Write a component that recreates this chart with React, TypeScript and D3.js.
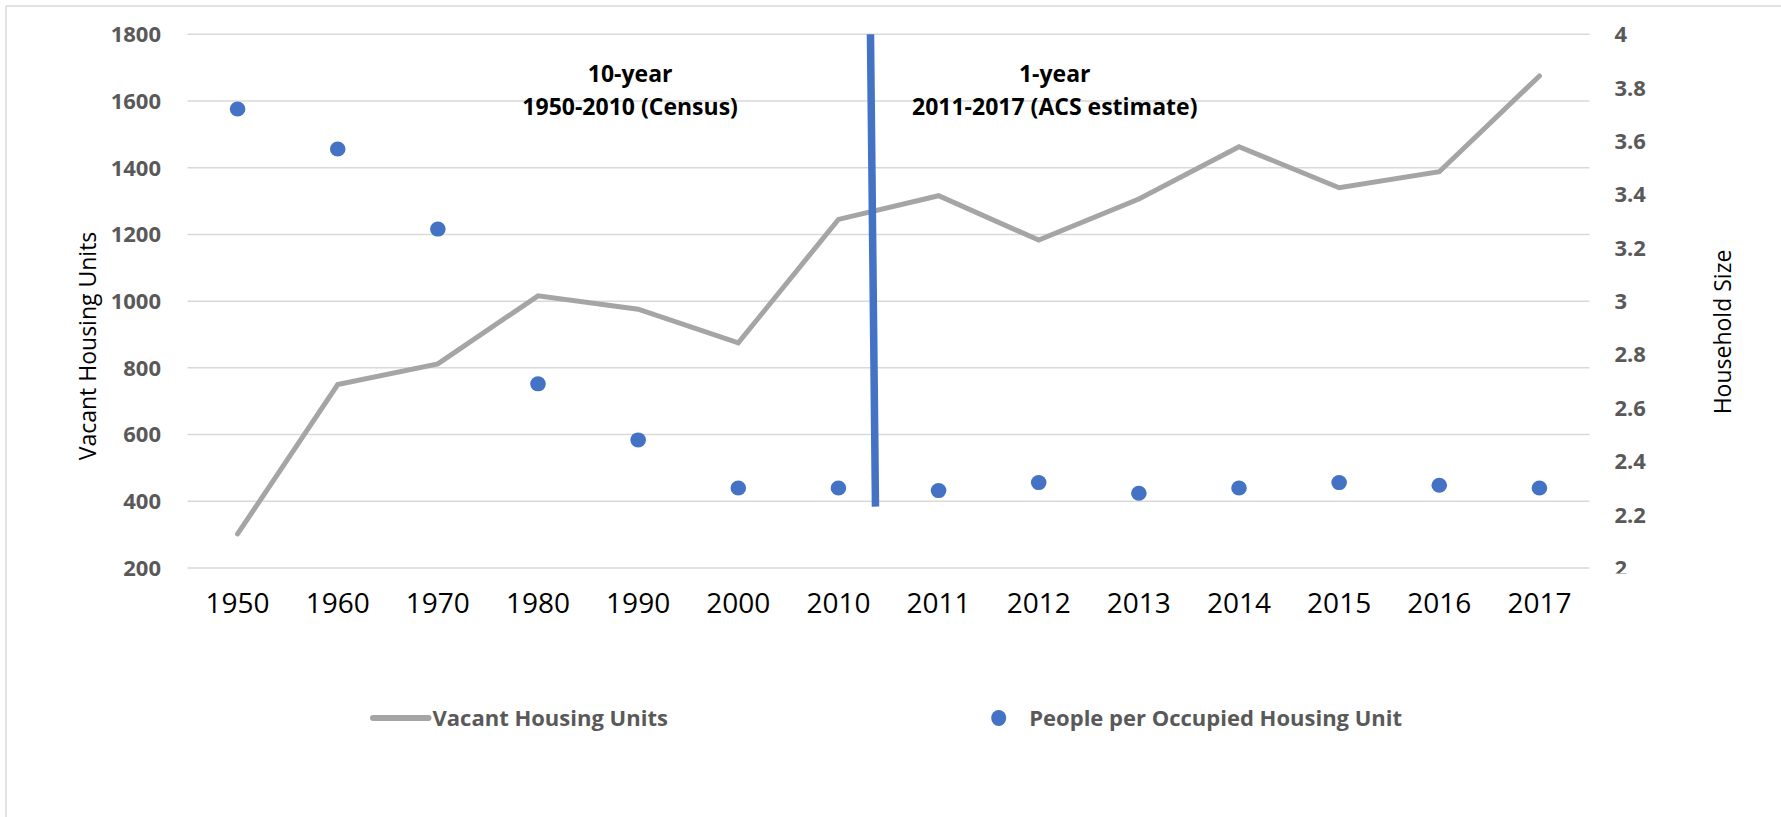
import React from "react";
import * as d3 from "d3";

const categories = ["1950", "1960", "1970", "1980", "1990", "2000", "2010", "2011", "2012", "2013", "2014", "2015", "2016", "2017"];
const vacantUnits = [302, 750, 812, 1016, 976, 875, 1245, 1316, 1183, 1306, 1463, 1340, 1388, 1675];
const householdSize = [3.72, 3.57, 3.27, 2.69, 2.48, 2.30, 2.30, 2.29, 2.32, 2.28, 2.30, 2.32, 2.31, 2.30];
const leftTicks = [200, 400, 600, 800, 1000, 1200, 1400, 1600, 1800];
const rightTicks = [2, 2.2, 2.4, 2.6, 2.8, 3, 3.2, 3.4, 3.6, 3.8, 4];
const rightTickLabels = ["2", "2.2", "2.4", "2.6", "2.8", "3", "3.2", "3.4", "3.6", "3.8", "4"];
// divider: [index position, household-size value]
const dividerPoints: [number, number][] = [[6.32, 4.0], [6.37, 2.23]];
const annotations = [
  { idx: 3.92, lines: ["10-year", "1950-2010 (Census)"] },
  { idx: 8.16, lines: ["1-year", "2011-2017 (ACS estimate)"] },
];
const legendItems = ["Vacant Housing Units", "People per Occupied Housing Unit"];

const W = 1781;
const H = 817;
const FONT = "'Open Sans', 'Noto Sans', sans-serif";
const GRID = "#D9D9D9";
const LABEL = "#595959";
const LINE = "#A5A5A5";
const BLUE = "#4472C4";

export default function App() {
  const plotLeft = 187.5;
  const plotRight = 1589.5;
  const plotTop = 34.3;
  const plotBottom = 568;

  const x = d3.scaleBand<string>().domain(categories).range([plotLeft, plotRight]).paddingInner(0).paddingOuter(0);
  const bw = x.bandwidth();
  const cx = (c: string) => (x(c) as number) + bw / 2;
  const xi = d3.scaleLinear().domain([0, categories.length - 1]).range([cx(categories[0]), cx(categories[categories.length - 1])]);

  const yL = d3.scaleLinear().domain([200, 1800]).range([plotBottom, plotTop]);
  const yR = d3.scaleLinear().domain([2, 4]).range([plotBottom, plotTop]);

  const linePath = d3
    .line<number>()
    .x((_, i) => cx(categories[i]))
    .y((d) => yL(d))(vacantUnits) as string;

  const dividerPath = d3
    .line<[number, number]>()
    .x((d) => xi(d[0]))
    .y((d) => yR(d[1]))(dividerPoints) as string;

  return (
    <div>
      <style>{"body{margin:0;}"}</style>
      <svg width={W} height={H} style={{ display: "block", fontFamily: FONT }}>
        <defs>
          <clipPath id="rightClip">
            <rect x={1590} y={0} width={200} height={573.5} />
          </clipPath>
        </defs>
        <rect x={0} y={0} width={W} height={H} fill="#fff" />
        {/* frame (only top & left visible) */}
        <line x1={6} y1={6} x2={W} y2={6} stroke={GRID} strokeWidth={1.5} />
        <line x1={6} y1={6} x2={6} y2={H} stroke={GRID} strokeWidth={1.5} />

        {/* gridlines */}
        {leftTicks.map((t) => (
          <line key={"g" + t} x1={plotLeft} x2={plotRight} y1={yL(t)} y2={yL(t)} stroke={GRID} strokeWidth={1.5} />
        ))}

        {/* left axis labels */}
        {leftTicks.map((t) => (
          <text key={"l" + t} x={161} y={yL(t)} dy="0.36em" textAnchor="end" fontSize={22} fontWeight="bold" fill={LABEL}>
            {t}
          </text>
        ))}

        {/* right axis labels */}
        <g clipPath="url(#rightClip)">
          {rightTicks.map((t, i) => (
            <text key={"r" + t} x={1614.5} y={yR(t)} dy="0.36em" textAnchor="start" fontSize={22} fontWeight="bold" fill={LABEL}>
              {rightTickLabels[i]}
            </text>
          ))}
        </g>

        {/* x labels */}
        {categories.map((c) => (
          <text key={"x" + c} x={cx(c)} y={613} textAnchor="middle" fontSize={28} fill="#000">
            {c}
          </text>
        ))}

        {/* axis titles */}
        <text transform={`translate(88,346) rotate(-90)`} textAnchor="middle" dy="0.36em" fontSize={23} fill="#000">
          Vacant Housing Units
        </text>
        <text transform={`translate(1723,332) rotate(-90)`} textAnchor="middle" dy="0.36em" fontSize={23} fill="#000">
          Household Size
        </text>

        {/* series line */}
        <path d={linePath} fill="none" stroke={LINE} strokeWidth={5} strokeLinejoin="miter" strokeLinecap="round" />

        {/* dots */}
        {householdSize.map((v, i) => (
          <ellipse key={"d" + i} cx={cx(categories[i])} cy={yR(v)} rx={7.8} ry={7.5} fill={BLUE} />
        ))}

        {/* divider */}
        <path d={dividerPath} fill="none" stroke={BLUE} strokeWidth={7.5} />

        {/* annotations */}
        {annotations.map((a, k) => (
          <g key={"a" + k}>
            {a.lines.map((ln, j) => (
              <text key={j} x={xi(a.idx)} y={82 + j * 33} textAnchor="middle" fontSize={23} fontWeight="bold" fill="#000">
                {ln}
              </text>
            ))}
          </g>
        ))}

        {/* legend */}
        <line x1={373} x2={428.5} y1={718} y2={718} stroke={LINE} strokeWidth={6} strokeLinecap="round" />
        <text x={432.5} y={718} dy="0.36em" fontSize={22} fontWeight="bold" fill={LABEL}>
          {legendItems[0]}
        </text>
        <ellipse cx={998.7} cy={718} rx={7.5} ry={8} fill={BLUE} />
        <text x={1029.3} y={718} dy="0.36em" fontSize={22} fontWeight="bold" fill={LABEL}>
          {legendItems[1]}
        </text>
      </svg>
    </div>
  );
}
